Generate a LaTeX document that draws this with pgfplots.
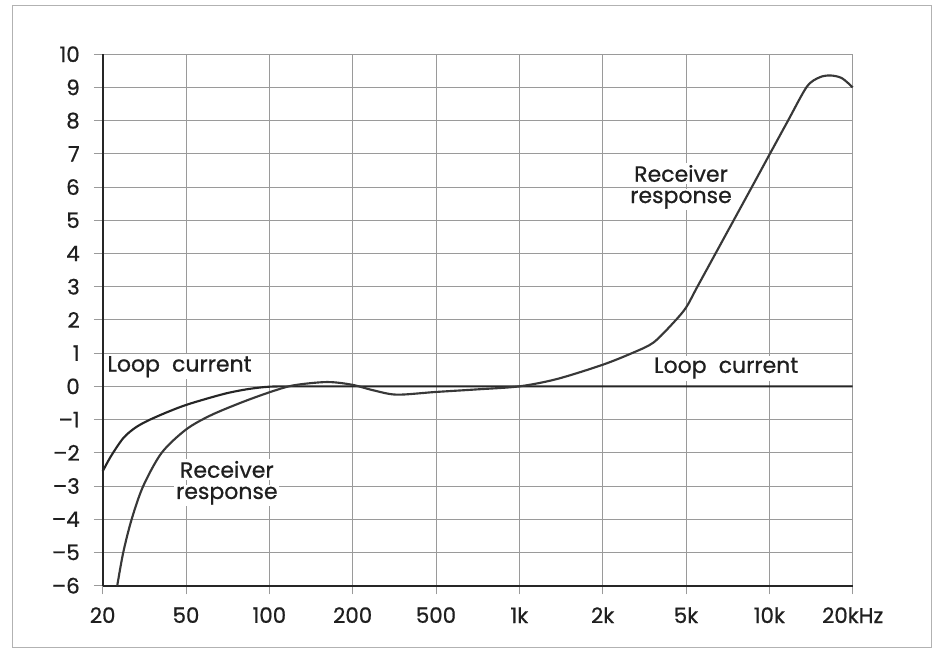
\documentclass[border=0pt]{standalone}
\usepackage{pgfplots}
\pgfplotsset{compat=1.18}
\usepackage{fontspec}
\setmainfont{Poppins}[FakeBold=0.7]
\definecolor{curve}{HTML}{383838}
\definecolor{gridc}{HTML}{9A9A9A}
\begin{document}
\fontsize{16.5}{14}\selectfont
\begin{tikzpicture}
\path[use as bounding box] (0,0) rectangle (702pt,486.75pt);
\draw[gray!60, line width=0.8pt] (9.2pt,1.3pt) rectangle (698.8pt,482.5pt);
\begin{axis}[
  at={(77pt,47.5pt)}, anchor=south west, scale only axis,
  width=562.5pt, height=398.6pt,
  xmin=0, xmax=9, ymin=-6, ymax=10,
  xtick={0,...,9},
  xticklabels={20,50,100,200,500,1k,2k,5k,10k,20kHz},
  ytick={-6,-5,...,10},
  yticklabels={–6,–5,–4,–3,–2,–1,0,1,2,3,4,5,6,7,8,9,10},
  axis x line*=bottom, axis y line*=left,
  axis line style={black!85, line width=1.4pt, -},
  grid=major,
  grid style={gridc, line width=0.7pt},
  tick style={gridc, line width=0.7pt},
  major tick length=6.5pt,
  tick align=outside,
  ticklabel style={font=\fontsize{16}{16}\selectfont, text=black!88},
  yticklabel style={xshift=-5pt},
  xticklabel style={yshift=-4pt},
  clip=false,
]
% Loop current
\addplot[black!85, line width=1.6pt, smooth] coordinates {
(0.0,-2.56) (0.1,-2.1) (0.25,-1.55) (0.4,-1.23) (0.57,-1.0) (0.8,-0.75)
(1.0,-0.56) (1.25,-0.37) (1.5,-0.2) (1.75,-0.08) (2.0,-0.01) (2.3,0)
(3,0) (4,0) (5,0) (6,0) (7,0) (8,0) (9,0)
};
% Receiver response
\addplot[curve, line width=1.6pt, smooth] coordinates {
(0.175,-6) (0.247,-5) (0.348,-4) (0.487,-3) (0.708,-2) (1.0,-1.3)
(1.29,-0.88) (1.65,-0.5) (2.0,-0.18) (2.29,0.03) (2.69,0.13) (2.99,0.05)
(3.25,-0.12) (3.53,-0.25) (3.99,-0.17) (4.5,-0.09) (5.0,0) (5.45,0.22)
(6.0,0.65) (6.37,1.02) (6.61,1.32) (6.85,1.92) (7.0,2.37) (7.13,2.97)
(7.35,3.98) (7.57,4.99) (7.79,6.0) (8.0,6.97) (8.22,7.98) (8.45,9.02)
(8.6,9.3) (8.73,9.36) (8.87,9.28) (9.0,9.0)
};
\node[fill=white, inner sep=1.5pt, anchor=west, text=black!88] at (axis cs:0.03,0.59) {Loop\hspace{0.55em}current};
\node[fill=white, inner sep=1.5pt, anchor=west, text=black!88] at (axis cs:6.59,0.55) {Loop\hspace{0.55em}current};
\node[fill=white, inner sep=1.2pt, anchor=base, text=black!88] at (axis cs:1.49,-2.75) {Receiver};
\node[fill=white, inner sep=1.2pt, anchor=base, text=black!88] at (axis cs:1.49,-3.39) {response};
\node[fill=white, inner sep=1.2pt, anchor=base, text=black!88] at (axis cs:6.94,6.16) {Receiver};
\node[fill=white, inner sep=1.2pt, anchor=base, text=black!88] at (axis cs:6.94,5.52) {response};
\end{axis}
\end{tikzpicture}
\end{document}
